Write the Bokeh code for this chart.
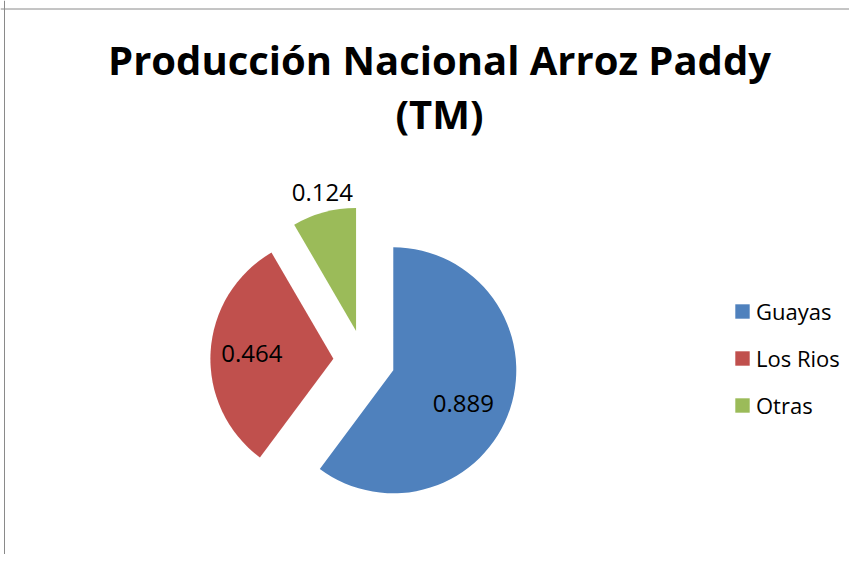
import math
from bokeh.plotting import figure
from bokeh.models import ColumnDataSource, Range1d, Label, Legend, LegendItem, Span
from bokeh.core.properties import value
from bokeh.embed import file_html
from bokeh.resources import INLINE

# ---- data ----
categories = ["Guayas", "Los Rios", "Otras"]
values = [0.889, 0.464, 0.124]
colors = ["#4F81BD", "#C0504D", "#9BBB59"]
title_lines = ["Producción Nacional Arroz Paddy", "(TM)"]

# ---- layout / style ----
W, H = 849, 554
CX, CY = 363.6, 360.1       # pie centre inside the canvas (px from left, px from top)
R = 123                      # pie radius (px == data units)
EXPLODE = 0.25               # explosion as fraction of the radius
label_r = [0.63, 0.665, 1.16]
label_da = [-7.0, -0.4, -1.4]
FONT = "Open Sans"

total = sum(values)
start, end, mid = [], [], []
cum = 0.0
for v in values:
    a0 = 90 - cum / total * 360
    cum += v
    a1 = 90 - cum / total * 360
    start.append(math.radians(a0))
    end.append(math.radians(a1))
    mid.append(math.radians((a0 + a1) / 2))

ox = [EXPLODE * R * math.cos(m) for m in mid]
oy = [EXPLODE * R * math.sin(m) for m in mid]
lx = [ox[i] + label_r[i] * R * math.cos(mid[i] + math.radians(label_da[i])) for i in range(len(values))]
ly = [oy[i] + label_r[i] * R * math.sin(mid[i] + math.radians(label_da[i])) for i in range(len(values))]

src = ColumnDataSource(dict(x=ox, y=oy, start=start, end=end, color=colors,
                            name=categories))
lsrc = ColumnDataSource(dict(x=lx, y=ly, text=[f"{v:.3f}" for v in values]))

p = figure(width=W, height=H, output_backend="svg", toolbar_location=None,
           x_range=Range1d(-CX, W - CX), y_range=Range1d(-(H - CY), CY),
           min_border=0)
p.axis.visible = False
p.grid.visible = False
p.outline_line_color = None
p.background_fill_color = "white"
p.border_fill_color = "white"

w = p.wedge(x="x", y="y", radius=R, start_angle="start", end_angle="end",
            direction="clock", fill_color="color", line_color=None, source=src)

p.text(x="x", y="y", text="text", source=lsrc, text_align="center",
       text_baseline="middle", text_font=value(FONT), text_font_size="24px",
       text_color="black")

# title (two centred lines)
p.add_layout(Label(x=439 - CX, y=CY - 59, text=title_lines[0],
                   text_align="center", text_baseline="alphabetic",
                   text_font=FONT, text_font_style="bold", text_font_size="40px",
                   text_color="black"))
p.add_layout(Label(x=439 - CX, y=CY - 113, text=title_lines[1],
                   text_align="center", text_baseline="alphabetic",
                   text_font=FONT, text_font_style="bold", text_font_size="40px",
                   text_color="black"))

# chart-area border (top and left visible)
p.add_layout(Span(location=CY - 8.5, dimension="width", line_color="#8a8a8a", line_width=1))
p.add_layout(Span(location=-CX + 4, dimension="height", line_color="#8a8a8a", line_width=1))

items = [LegendItem(label=categories[i], renderers=[w], index=i) for i in range(len(categories))]
legend = Legend(items=items, location=(733, 134), orientation="vertical",
                glyph_width=18, glyph_height=18, label_height=18,
                label_standoff=5, spacing=17, padding=0, margin=0,
                label_text_font=FONT, label_text_font_size="22px",
                label_text_color="black",
                border_line_color=None, background_fill_alpha=0)
p.add_layout(legend)

open("out.html", "w").write(file_html(p, INLINE))
